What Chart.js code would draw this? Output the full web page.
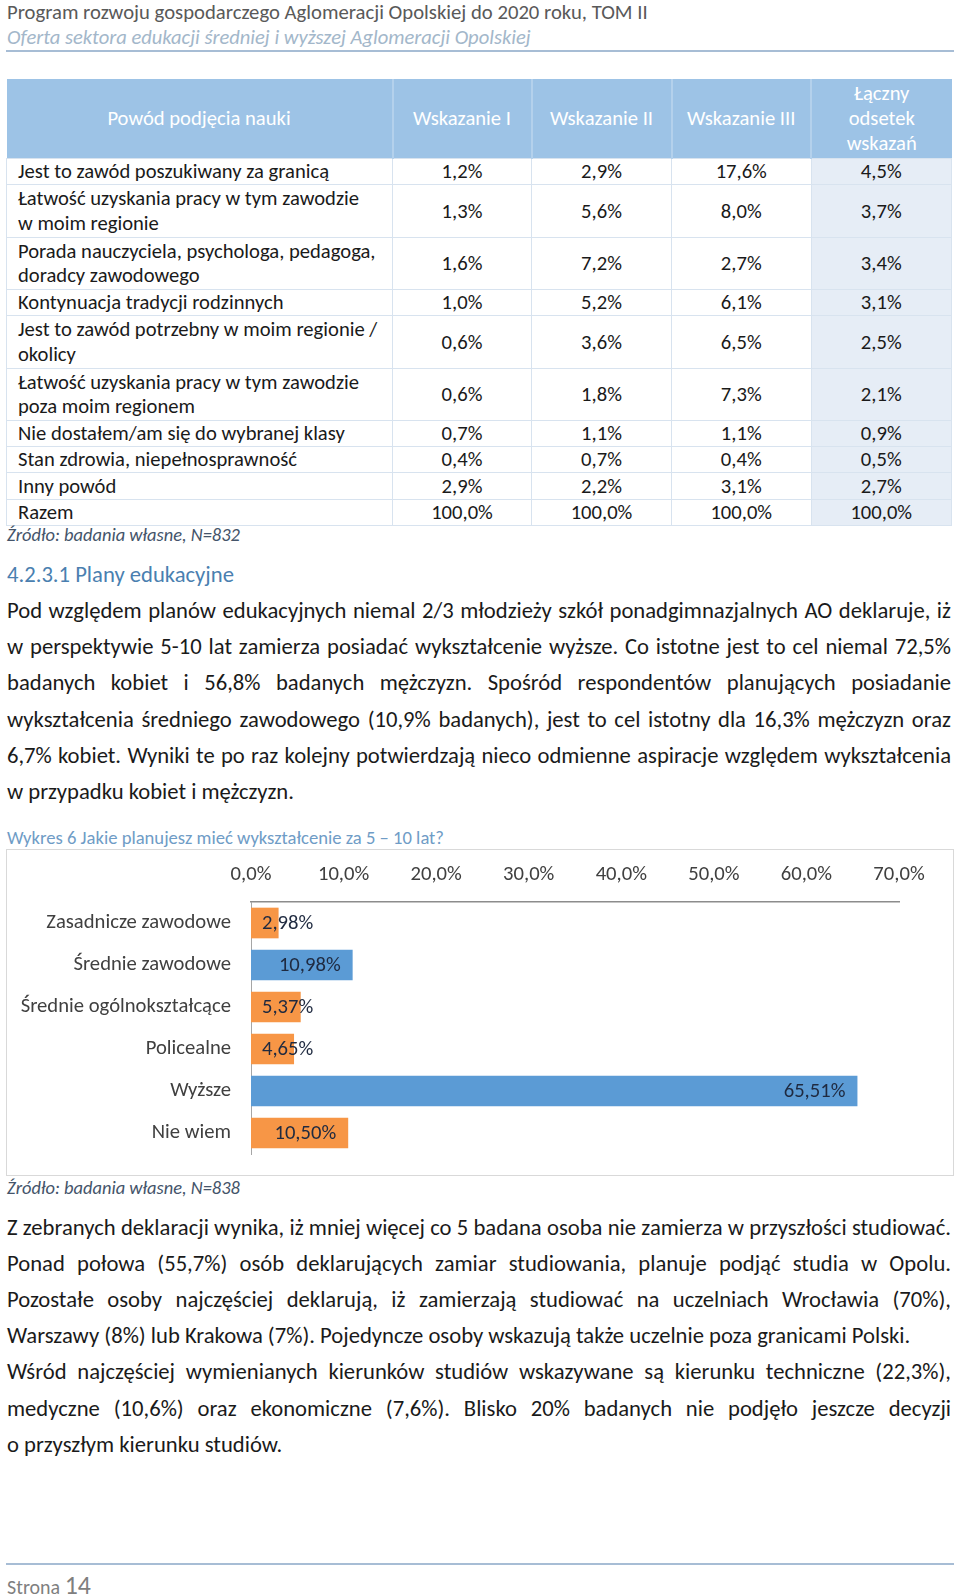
<!DOCTYPE html>
<html><head><meta charset="utf-8">
<script src="https://cdn.jsdelivr.net/npm/chart.js@4"></script>
<style>
body{margin:0;width:960px;height:1595px;position:relative;background:#fff;font-family:Carlito,Lato,sans-serif;color:#1a1a1a;overflow:hidden}
.abs{position:absolute;white-space:nowrap}
.hdr1{left:7px;top:0px;line-height:24px;font-size:19px;color:#595959}
.hdr2{left:7px;top:25px;line-height:24px;font-size:19px;color:#a3b7ca;font-style:italic}
.rule{position:absolute;left:6px;width:948px;height:2px;background:#a7bdd5}
table{position:absolute;left:6px;top:79px;width:945px;border-collapse:collapse;table-layout:fixed;font-size:17px}
th{background:#9dc3e6;color:#fff;font-weight:normal;border-left:2px solid #b4d1ec;height:79px;padding:0;line-height:25px;text-align:center}
th:first-child{border-left:none}
td{border:1.5px solid #d8e3ef;padding:0;line-height:24.5px;text-align:center;color:#1a1a1a;vertical-align:middle}
td.reason{text-align:left;padding-left:11px}
td.tot{background:#e6edf6}
.src{left:7px;line-height:22px;font-size:16.5px;font-style:italic;color:#44546a}
.h4{left:7px;top:561px;line-height:26px;font-size:20px;color:#4a7fb0}
.pl{position:absolute;left:7px;width:944px;white-space:nowrap;line-height:36px;height:36px;text-align:justify;text-align-last:justify;font-size:19px;color:#1a1a1a}
.pl.end{text-align-last:left}
.ctitle{left:7px;top:827px;line-height:22px;font-size:16px;color:#6f9cc6}
#box{position:absolute;left:6px;top:849px;width:948px;height:327px;box-sizing:border-box;border:1px solid #d9d9d9}
#box canvas{display:block}
.page{left:7px;top:1571px;line-height:28px;color:#7f7f7f}
</style></head>
<body>
<div class="abs hdr1" data-w="641">Program rozwoju gospodarczego Aglomeracji Opolskiej do 2020 roku, TOM II</div>
<div class="abs hdr2" data-w="524">Oferta sektora edukacji średniej i wyższej Aglomeracji Opolskiej</div>
<div class="rule" style="top:49.5px"></div>

<table id="tbl"></table>
<div class="abs src" style="top:524px" data-w="233">Źródło: badania własne, N=832</div>

<div class="abs h4" data-w="227">4.2.3.1 Plany edukacyjne</div>
<div id="p1"></div>

<div class="abs ctitle" data-w="437">Wykres 6 Jakie planujesz mieć wykształcenie za 5 – 10 lat?</div>
<div id="box"><canvas id="c" width="946" height="325"></canvas></div>
<div class="abs src" style="top:1177px" data-w="233">Źródło: badania własne, N=838</div>

<div id="p2"></div>

<div class="rule" style="top:1563px;height:2px"></div>
<div class="abs page" data-w="84"><span style="font-size:17px">Strona </span><span style="font-size:22px">14</span></div>

<script>
// ---------- Table data ----------
const tableHeaders = ['Powód podjęcia nauki','Wskazanie I','Wskazanie II','Wskazanie III','Łączny<br>odsetek<br>wskazań'];
const tableReasons = [
  'Jest to zawód poszukiwany za granicą',
  'Łatwość uzyskania pracy w tym zawodzie<br>w moim regionie',
  'Porada nauczyciela, psychologa, pedagoga,<br>doradcy zawodowego',
  'Kontynuacja tradycji rodzinnych',
  'Jest to zawód potrzebny w moim regionie /<br>okolicy',
  'Łatwość uzyskania pracy w tym zawodzie<br>poza moim regionem',
  'Nie dostałem/am się do wybranej klasy',
  'Stan zdrowia, niepełnosprawność',
  'Inny powód',
  'Razem'
];
const tableW1 = ['1,2%','1,3%','1,6%','1,0%','0,6%','0,6%','0,7%','0,4%','2,9%','100,0%'];
const tableW2 = ['2,9%','5,6%','7,2%','5,2%','3,6%','1,8%','1,1%','0,7%','2,2%','100,0%'];
const tableW3 = ['17,6%','8,0%','2,7%','6,1%','6,5%','7,3%','1,1%','0,4%','3,1%','100,0%'];
const tableTotal = ['4,5%','3,7%','3,4%','3,1%','2,5%','2,1%','0,9%','0,5%','2,7%','100,0%'];

// ---------- Chart data ----------
const categories = ['Zasadnicze zawodowe','Średnie zawodowe','Średnie ogólnokształcące','Policealne','Wyższe','Nie wiem'];
const values = [2.98, 10.98, 5.37, 4.65, 65.51, 10.50];
const tickLabels = ['0,0%','10,0%','20,0%','30,0%','40,0%','50,0%','60,0%','70,0%'];
const ORANGE = '#f79646', BLUE = '#5b9bd5';
const barColors = [ORANGE, BLUE, ORANGE, ORANGE, BLUE, ORANGE];

// ---------- Paragraph text (lines as in the page) ----------
const para1 = [
 'Pod względem planów edukacyjnych niemal 2/3 młodzieży szkół ponadgimnazjalnych AO deklaruje, iż',
 'w perspektywie 5-10 lat zamierza posiadać wykształcenie wyższe. Co istotne jest to cel niemal 72,5%',
 'badanych kobiet i 56,8% badanych mężczyzn. Spośród respondentów planujących posiadanie',
 'wykształcenia średniego zawodowego (10,9% badanych), jest to cel istotny dla 16,3% mężczyzn oraz',
 '6,7% kobiet. Wyniki te po raz kolejny potwierdzają nieco odmienne aspiracje względem wykształcenia',
 'w przypadku kobiet i mężczyzn.'
];
const para2 = [
 'Z zebranych deklaracji wynika, iż mniej więcej co 5 badana osoba nie zamierza w przyszłości studiować.',
 'Ponad połowa (55,7%) osób deklarujących zamiar studiowania, planuje podjąć studia w Opolu.',
 'Pozostałe osoby najczęściej deklarują, iż zamierzają studiować na uczelniach Wrocławia (70%),',
 'Warszawy (8%) lub Krakowa (7%). Pojedyncze osoby wskazują także uczelnie poza granicami Polski.',
 'Wśród najczęściej wymienianych kierunków studiów wskazywane są kierunku techniczne (22,3%),',
 'medyczne (10,6%) oraz ekonomiczne (7,6%). Blisko 20% badanych nie podjęło jeszcze decyzji',
 'o przyszłym kierunku studiów.'
];
const para1End = [5];
const para2End = [3, 6];

// ---------- build table ----------
const tbl = document.getElementById('tbl');
const colW = [386,139,140,139.5,140.5];
let cg = '<colgroup>' + colW.map(w=>'<col style="width:'+w+'px">').join('') + '</colgroup>';
let html = cg + '<tr>' + tableHeaders.map(h=>'<th>'+h+'</th>').join('') + '</tr>';
tableReasons.forEach((r,i)=>{
  const lines = r.split('<br>').length;
  const h = lines*26.2;
  html += '<tr style="height:'+h+'px"><td class="reason">'+r+'</td><td>'+tableW1[i]+'</td><td>'+tableW2[i]+'</td><td>'+tableW3[i]+'</td><td class="tot">'+tableTotal[i]+'</td></tr>';
});
tbl.innerHTML = html;

// ---------- build paragraphs ----------
function buildPara(id, lines, ends, top){
  const el = document.getElementById(id);
  lines.forEach((t,i)=>{
    const d = document.createElement('div');
    d.className = 'pl' + (ends.includes(i) ? ' end' : '');
    d.style.top = (top + i*36.2) + 'px';
    d.textContent = t;
    el.appendChild(d);
  });
}
buildPara('p1', para1, para1End, 592);
buildPara('p2', para2, para2End, 1208.5);

// ---------- font fitting helpers ----------
function measureText(text, font){
  const c = document.createElement('canvas').getContext('2d');
  c.font = font; return c.measureText(text).width;
}
const FAM = 'Carlito, Lato, sans-serif';
(function(){
  const w = measureText(para2[0], '19px ' + FAM);
  const fs = 19 * 942 / w;
  document.querySelectorAll('.pl').forEach(d=>d.style.fontSize = fs.toFixed(2)+'px');
})();
document.querySelectorAll('[data-w]').forEach(el=>{
  const target = +el.dataset.w;
  const cur = el.getBoundingClientRect().width;
  const k = target / cur;
  if (el.children.length){
    [...el.children].forEach(s=>{ s.style.fontSize = (parseFloat(getComputedStyle(s).fontSize)*k).toFixed(2)+'px'; });
  } else {
    el.style.fontSize = (parseFloat(getComputedStyle(el).fontSize)*k).toFixed(2)+'px';
  }
});
(function(){
  const w = measureText(tableReasons[0], '17px ' + FAM);
  const fs = 17 * 311 / w;
  tbl.style.fontSize = fs.toFixed(2)+'px';
})();

// ---------- chart ----------
const chartFS = +(18 * 210.5 / measureText('Średnie ogólnokształcące', '18px ' + FAM)).toFixed(2);
const valueLabels = values.map(v => v.toFixed(2).replace('.', ',') + '%');

const barLabels = {
  id: 'barLabels',
  afterDatasetsDraw(chart){
    const ctx = chart.ctx;
    const meta = chart.getDatasetMeta(0);
    ctx.save();
    ctx.font = chartFS + 'px ' + FAM;
    ctx.fillStyle = '#1f2a40';
    ctx.textAlign = 'left';
    ctx.textBaseline = 'middle';
    meta.data.forEach((bar, i) => {
      const txt = valueLabels[i];
      const w = ctx.measureText(txt).width;
      const left = Math.max(bar.x - 12 - w, bar.base + 11);
      ctx.fillText(txt, left, bar.y + 1);
    });
    ctx.restore();
  }
};

new Chart(document.getElementById('c'), {
  type: 'bar',
  data: {
    labels: categories,
    datasets: [{ data: values, backgroundColor: barColors, borderWidth: 0, barPercentage: 0.73, categoryPercentage: 1 }]
  },
  options: {
    indexAxis: 'y',
    responsive: false,
    animation: false,
    devicePixelRatio: 1,
    layout: { padding: { left: 0, top: 0, right: 54, bottom: 21 } },
    plugins: { legend: { display: false }, tooltip: { enabled: false } },
    scales: {
      x: {
        position: 'top', min: 0, max: 70,
        grid: { display: false, drawTicks: false },
        border: { display: true, color: '#8c8c8c', width: 1.5 },
        ticks: { stepSize: 10, padding: 15, maxRotation: 0, color: '#404040',
                 font: { family: FAM, size: chartFS },
                 callback: (v, i) => tickLabels[i] },
        afterFit: s => { s.height = 52; }
      },
      y: {
        grid: { display: false, drawTicks: false },
        border: { display: true, color: '#a6a6a6', width: 1 },
        ticks: { padding: 20, color: '#404040', font: { family: FAM, size: chartFS } },
        afterFit: s => { s.width = 244; s.paddingTop = 0; s.paddingBottom = 0; }
      }
    }
  },
  plugins: [barLabels]
});
</script>
</body></html>
